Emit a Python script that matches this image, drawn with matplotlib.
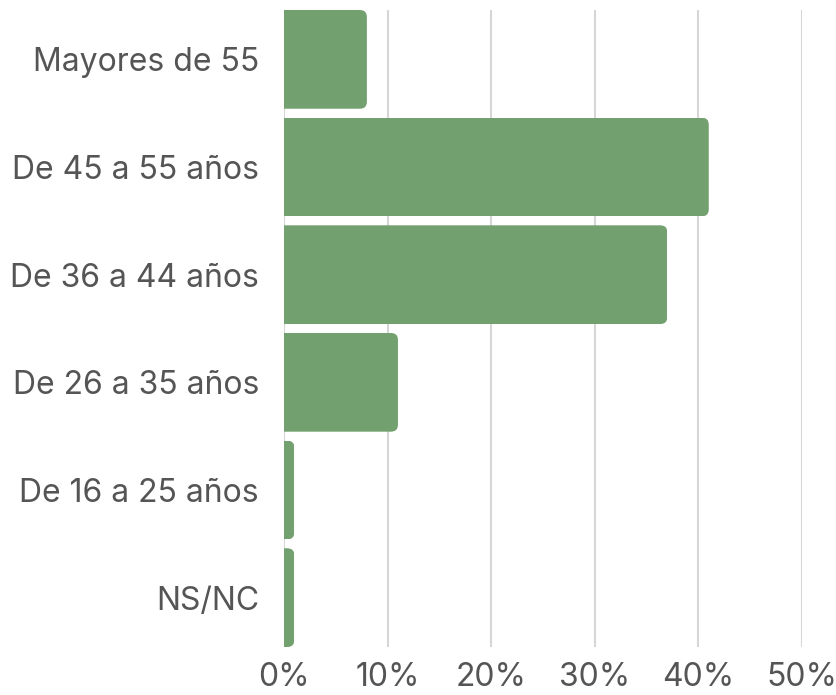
import matplotlib
matplotlib.use("Agg")
import matplotlib.pyplot as plt
from matplotlib.patches import FancyBboxPatch
from matplotlib.transforms import IdentityTransform
from matplotlib.ticker import FixedLocator, FuncFormatter

categories = ["Mayores de 55", "De 45 a 55 años", "De 36 a 44 años",
              "De 26 a 35 años", "De 16 a 25 años", "NS/NC"]
values = [8, 41, 37, 11, 1, 1]
xticks = [0, 10, 20, 30, 40, 50]

bar_color = "#73a06f"
text_color = "#555555"
grid_color = "#d6d6d6"

plt.rcParams['font.family'] = ['Inter', 'DejaVu Sans']

W, H = 837, 695
fig = plt.figure(figsize=(W / 100, H / 100), dpi=100)
left, right, top, bottom = 284, 802, 10, 647
ax = fig.add_axes([left / W, (H - bottom) / H, (right - left) / W, (bottom - top) / H])

height = 0.917
ys = list(range(len(categories)))
bars = ax.barh(ys, values, height=height, color=bar_color, zorder=2)
ax.set_ylim(len(categories) - 1 + height / 2, -height / 2)
ax.set_xlim(0, 50)

ax.xaxis.set_major_locator(FixedLocator(xticks))
ax.xaxis.set_major_formatter(FuncFormatter(lambda v, p: f"{int(v)}%"))
ax.set_yticks(ys)
ax.set_yticklabels(categories)
ax.tick_params(axis='both', length=0, labelsize=23, labelcolor=text_color)
ax.tick_params(axis='y', pad=18)
ax.tick_params(axis='x', pad=11)
ax.grid(axis='x', color=grid_color, linewidth=1.5, zorder=0)
ax.grid(axis='y', visible=False)
for s in ax.spines.values():
    s.set_visible(False)

fig.canvas.draw()
r = 7
for b in bars:
    bb = b.get_window_extent()
    clip = FancyBboxPatch((bb.x0 - 2 * r, bb.y0), bb.width + 2 * r, bb.height,
                          boxstyle=f"round,pad=0,rounding_size={r}",
                          transform=IdentityTransform())
    b.set_clip_path(clip)

fig.savefig("out.png", dpi=100)
